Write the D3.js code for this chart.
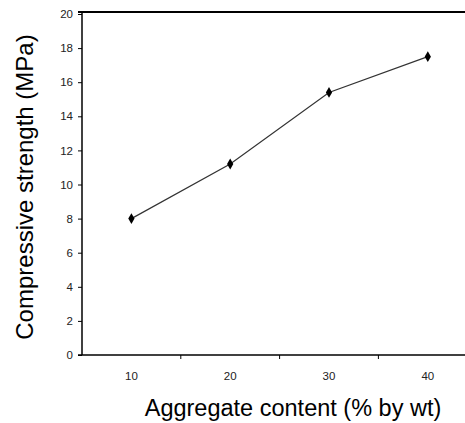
<!DOCTYPE html>
<html>
<head>
<meta charset="utf-8">
<script src="https://cdn.jsdelivr.net/npm/d3@7"></script>
<style>
  body { margin: 0; background: #fff; }
  svg { display: block; font-family: "Liberation Sans", Arial, sans-serif; }
</style>
</head>
<body>
<div id="chart"></div>
<script>
// chart data
const categories = ["10", "20", "30", "40"];
const strength = [8.0, 11.2, 15.4, 17.5];
const yTicks = [0, 2, 4, 6, 8, 10, 12, 14, 16, 18, 20];

const width = 465, height = 423;
const plotLeft = 82, plotTop = 14, plotBottom = 355;

const svg = d3.select("#chart")
  .append("svg")
  .attr("width", width)
  .attr("height", height);

// bands run past the right edge of the picture, like the original
const x = d3.scaleBand()
  .domain(categories)
  .range([plotLeft, plotLeft + 4 * 98.8])
  .paddingInner(0)
  .paddingOuter(0);

const y = d3.scaleLinear()
  .domain([0, 20])
  .range([plotBottom, plotTop]);

// top frame line
svg.append("line")
  .attr("x1", plotLeft - 4).attr("x2", width)
  .attr("y1", 12).attr("y2", 12)
  .attr("stroke", "#000").attr("stroke-width", 2);

// y axis
const yAxis = svg.append("g")
  .attr("transform", `translate(${plotLeft},0)`)
  .call(d3.axisLeft(y).tickValues(yTicks).tickSize(4).tickPadding(5).tickFormat(d3.format("d")));
yAxis.select(".domain").attr("d", `M0,12V${plotBottom}`).attr("stroke-width", 1.5);
yAxis.selectAll("text").attr("font-size", 11.5).attr("font-family", "Liberation Sans, Arial, sans-serif").attr("fill", "#222");

// x axis: ticks sit on the band edges
const edges = categories.map(c => x(c)).concat([x(categories[3]) + x.bandwidth()]);
const xg = svg.append("g");
xg.append("line")
  .attr("x1", plotLeft - 4).attr("x2", width)
  .attr("y1", plotBottom).attr("y2", plotBottom)
  .attr("stroke", "#000").attr("stroke-width", 1.5);
xg.selectAll(".tk")
  .data(edges.slice(1))
  .enter().append("line")
  .attr("x1", d => d).attr("x2", d => d)
  .attr("y1", plotBottom).attr("y2", plotBottom + 4)
  .attr("stroke", "#000");
xg.selectAll(".lbl")
  .data(categories)
  .enter().append("text")
  .attr("x", d => x(d) + x.bandwidth() / 2)
  .attr("y", plotBottom + 25)
  .attr("text-anchor", "middle")
  .attr("font-size", 11.5)
  .attr("fill", "#222")
  .text(d => d);

// series line
const pts = categories.map((c, i) => ({ c: c, v: strength[i] }));
svg.append("path")
  .datum(pts)
  .attr("fill", "none")
  .attr("stroke", "#333")
  .attr("stroke-width", 1.2)
  .attr("d", d3.line()
    .x(d => x(d.c) + x.bandwidth() / 2)
    .y(d => y(d.v)));

svg.selectAll(".mark")
  .data(pts)
  .enter().append("path")
  .attr("transform", d => `translate(${x(d.c) + x.bandwidth() / 2},${y(d.v)})`)
  .attr("d", d3.symbol(d3.symbolDiamond, 34))
  .attr("fill", "#000");

// axis titles
svg.append("text")
  .attr("transform", `translate(33,187) rotate(-90)`)
  .attr("text-anchor", "middle")
  .attr("font-size", 24)
  .attr("fill", "#000")
  .text("Compressive strength (MPa)");

svg.append("text")
  .attr("x", 293)
  .attr("y", 416)
  .attr("text-anchor", "middle")
  .attr("font-size", 23.5)
  .attr("fill", "#000")
  .text("Aggregate content (% by wt)");
</script>
</body>
</html>
